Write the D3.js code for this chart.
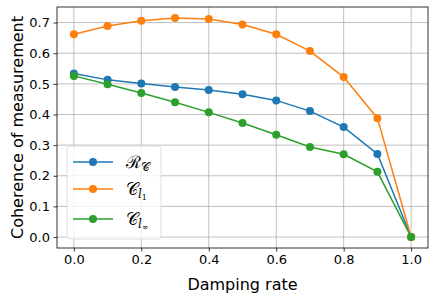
<!DOCTYPE html>
<html>
<head>
<meta charset="utf-8">
<script src="https://cdn.jsdelivr.net/npm/d3@7"></script>
<style>
  body { margin: 0; background: #fff; }
  svg text { font-family: "DejaVu Sans", sans-serif; fill: #000; }
</style>
</head>
<body>
<div id="vizcont"></div>
<script>
// damping rates on the x axis
var damping = [0.0, 0.1, 0.2, 0.3, 0.4, 0.5, 0.6, 0.7, 0.8, 0.9, 1.0];
// coherence measures
var relEntropy = [0.534, 0.513, 0.501, 0.490, 0.480, 0.466, 0.446, 0.411, 0.359, 0.271, 0.0];
var l1Norm = [0.662, 0.689, 0.706, 0.715, 0.712, 0.694, 0.662, 0.607, 0.522, 0.388, 0.0];
var lInfNorm = [0.526, 0.499, 0.470, 0.440, 0.407, 0.372, 0.334, 0.294, 0.270, 0.213, 0.0];
var xTicks = [0.0, 0.2, 0.4, 0.6, 0.8, 1.0];
var yTicks = [0.0, 0.1, 0.2, 0.3, 0.4, 0.5, 0.6, 0.7];

var series = [
  {name: "R", sub: "C", values: relEntropy, color: "#1f77b4"},
  {name: "C", sub: "l1", values: l1Norm, color: "#ff7f0e"},
  {name: "C", sub: "linf", values: lInfNorm, color: "#2ca02c"}
];

var W = 436, H = 301;
var margin = {top: 7, right: 8, bottom: 53, left: 57};
var width = W - margin.left - margin.right;
var height = H - margin.top - margin.bottom;

var svg = d3.select("#vizcont")
    .append("svg")
    .attr("width", W)
    .attr("height", H);
var g = svg.append("g")
    .attr("transform", "translate(" + margin.left + "," + margin.top + ")");

var x = d3.scaleLinear().domain([-0.05, 1.05]).range([0, width]);
var y = d3.scaleLinear().domain([-0.0357, 0.7508]).range([height, 0]);

// grid
g.append("g").selectAll("line").data(xTicks).enter().append("line")
    .attr("x1", function(d) { return x(d); }).attr("x2", function(d) { return x(d); })
    .attr("y1", 0).attr("y2", height)
    .attr("stroke", "#b0b0b0").attr("stroke-width", 0.8);
g.append("g").selectAll("line").data(yTicks).enter().append("line")
    .attr("y1", function(d) { return y(d); }).attr("y2", function(d) { return y(d); })
    .attr("x1", 0).attr("x2", width)
    .attr("stroke", "#b0b0b0").attr("stroke-width", 0.8);

// axes
var xAxis = g.append("g")
    .attr("transform", "translate(0," + height + ")")
    .call(d3.axisBottom(x).tickValues(xTicks).tickFormat(d3.format(".1f")).tickSize(3.5).tickPadding(3.5));
var yAxis = g.append("g")
    .call(d3.axisLeft(y).tickValues(yTicks).tickFormat(d3.format(".1f")).tickSize(3.5).tickPadding(3.5));
[xAxis, yAxis].forEach(function(a) {
  a.select(".domain").remove();
  a.selectAll("line").attr("stroke", "#000").attr("stroke-width", 0.8);
  a.selectAll("text").style("font-size", "13px").style("font-family", "DejaVu Sans");
});

// frame
g.append("rect")
    .attr("width", width).attr("height", height)
    .attr("fill", "none").attr("stroke", "#000").attr("stroke-width", 0.8);

// lines and markers
var line = d3.line()
    .x(function(d, i) { return x(damping[i]); })
    .y(function(d) { return y(d); });

series.forEach(function(s) {
  g.append("path")
      .datum(s.values)
      .attr("fill", "none")
      .attr("stroke", s.color)
      .attr("stroke-width", 1.5)
      .attr("d", line);
  g.append("g").selectAll("circle").data(s.values).enter().append("circle")
      .attr("cx", function(d, i) { return x(damping[i]); })
      .attr("cy", function(d) { return y(d); })
      .attr("r", 4)
      .attr("fill", s.color);
});

// axis labels
svg.append("text")
    .attr("x", margin.left + width / 2).attr("y", 290)
    .attr("text-anchor", "middle")
    .style("font-size", "16px")
    .text("Damping rate");
svg.append("text")
    .attr("transform", "translate(23," + (margin.top + height / 2) + ") rotate(-90)")
    .attr("text-anchor", "middle")
    .style("font-size", "16px")
    .text("Coherence of measurement");

// legend
var leg = svg.append("g").attr("transform", "translate(67,146)");
leg.append("rect")
    .attr("width", 94).attr("height", 93).attr("rx", 3)
    .attr("fill", "#fff").attr("fill-opacity", 0.8)
    .attr("stroke", "#d6d6d6").attr("stroke-width", 0.8);
var rows = [16, 43, 73];
series.forEach(function(s, i) {
  var r = leg.append("g").attr("transform", "translate(0," + rows[i] + ")");
  r.append("line").attr("x1", 6).attr("x2", 46)
      .attr("stroke", s.color).attr("stroke-width", 1.5);
  r.append("circle").attr("cx", 26).attr("r", 4).attr("fill", s.color);
  var t = r.append("text").attr("x", 59).attr("y", 6)
      .style("font-family", "DejaVu Serif").style("font-size", "17px");
  if (s.sub === "C") {
    t.append("tspan").text("\u211B");
    t.append("tspan").attr("dy", 3).style("font-size", "12px").text("\uD835\uDC9E");
  } else {
    t.append("tspan").text("\uD835\uDC9E");
    t.append("tspan").attr("dy", 3).style("font-size", "12px").style("font-style", "italic").text("l");
    t.append("tspan").attr("dy", 2).style("font-size", "8px").text(s.sub === "l1" ? "1" : "\u221E");
  }
});
</script>
</body>
</html>
